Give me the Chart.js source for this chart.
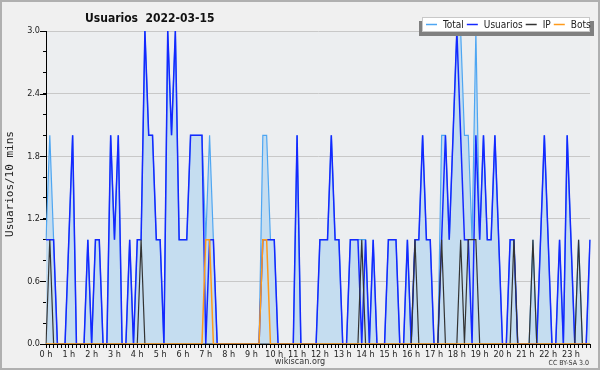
<!DOCTYPE html>
<html>
<head>
<meta charset="utf-8">
<script src="https://cdn.jsdelivr.net/npm/chart.js@4/dist/chart.umd.min.js"></script>
<style>
  html, body { margin: 0; padding: 0; background: #f0f0f0; }
  canvas { display: block; }
</style>
</head>
<body>
<canvas id="chart" width="600" height="370"></canvas>
<script>
// Usuarios per 10 minutes, 2022-03-15 (144 slots, 00:00 .. 23:50)
const chartTitle = "Usuarios  2022-03-15";
const yTitle = "Usuarios/10 mins";
const footLeft = "wikiscan.org";
const footRight = "CC BY-SA 3.0";

const hourLabels = ["0 h", "1 h", "2 h", "3 h", "4 h", "5 h", "6 h", "7 h", "8 h", "9 h", "10 h", "11 h",
  "12 h", "13 h", "14 h", "15 h", "16 h", "17 h", "18 h", "19 h", "20 h", "21 h", "22 h", "23 h"];
const yMajorTicks = [0, 0.6, 1.2, 1.8, 2.4, 3.0];

const total = [
  1, 2, 1, 0, 0, 0, 1, 2, 0, 0,
  0, 1, 0, 1, 1, 0, 0, 2, 1, 2,
  0, 0, 1, 0, 1, 1, 3, 2, 2, 1,
  1, 0, 3, 2, 3, 1, 1, 1, 2, 2,
  2, 2, 1, 2, 1, 0, 0, 0, 0, 0,
  0, 0, 0, 0, 0, 0, 0, 2, 2, 1,
  1, 0, 0, 0, 0, 0, 2, 0, 0, 0,
  0, 0, 1, 1, 1, 2, 1, 1, 0, 0,
  1, 1, 1, 1, 1, 0, 1, 0, 0, 0,
  1, 1, 1, 0, 0, 1, 0, 1, 1, 2,
  1, 1, 0, 0, 2, 2, 1, 2, 3, 3,
  2, 2, 1, 3, 1, 2, 1, 1, 2, 1,
  0, 0, 1, 1, 0, 0, 0, 0, 1, 0,
  1, 2, 1, 0, 0, 1, 0, 2, 1, 0,
  1, 0, 0, 1
];
const usuarios = [
  1, 1, 1, 0, 0, 0, 1, 2, 0, 0,
  0, 1, 0, 1, 1, 0, 0, 2, 1, 2,
  0, 0, 1, 0, 1, 1, 3, 2, 2, 1,
  1, 0, 3, 2, 3, 1, 1, 1, 2, 2,
  2, 2, 0, 1, 1, 0, 0, 0, 0, 0,
  0, 0, 0, 0, 0, 0, 0, 1, 1, 1,
  1, 0, 0, 0, 0, 0, 2, 0, 0, 0,
  0, 0, 1, 1, 1, 2, 1, 1, 0, 0,
  1, 1, 1, 0, 1, 0, 1, 0, 0, 0,
  1, 1, 1, 0, 0, 1, 0, 1, 1, 2,
  1, 1, 0, 0, 1, 2, 1, 2, 3, 2,
  1, 1, 0, 2, 1, 2, 1, 1, 2, 1,
  0, 0, 1, 1, 0, 0, 0, 0, 0, 0,
  1, 2, 1, 0, 0, 1, 0, 2, 1, 0,
  0, 0, 0, 1
];
const ip = [
  0, 1, 0, 0, 0, 0, 0, 0, 0, 0,
  0, 0, 0, 0, 0, 0, 0, 0, 0, 0,
  0, 0, 0, 0, 0, 1, 0, 0, 0, 0,
  0, 0, 0, 0, 0, 0, 0, 0, 0, 0,
  0, 0, 0, 0, 0, 0, 0, 0, 0, 0,
  0, 0, 0, 0, 0, 0, 0, 0, 0, 0,
  0, 0, 0, 0, 0, 0, 0, 0, 0, 0,
  0, 0, 0, 0, 0, 0, 0, 0, 0, 0,
  0, 0, 0, 1, 0, 0, 0, 0, 0, 0,
  0, 0, 0, 0, 0, 0, 0, 1, 0, 0,
  0, 0, 0, 0, 1, 0, 0, 0, 0, 1,
  0, 1, 1, 1, 0, 0, 0, 0, 0, 0,
  0, 0, 0, 1, 0, 0, 0, 0, 1, 0,
  0, 0, 0, 0, 0, 0, 0, 0, 0, 0,
  1, 0, 0, 0
];
const bots = [
  0, 0, 0, 0, 0, 0, 0, 0, 0, 0,
  0, 0, 0, 0, 0, 0, 0, 0, 0, 0,
  0, 0, 0, 0, 0, 0, 0, 0, 0, 0,
  0, 0, 0, 0, 0, 0, 0, 0, 0, 0,
  0, 0, 1, 1, 0, 0, 0, 0, 0, 0,
  0, 0, 0, 0, 0, 0, 0, 1, 1, 0,
  0, 0, 0, 0, 0, 0, 0, 0, 0, 0,
  0, 0, 0, 0, 0, 0, 0, 0, 0, 0,
  0, 0, 0, 0, 0, 0, 0, 0, 0, 0,
  0, 0, 0, 0, 0, 0, 0, 0, 0, 0,
  0, 0, 0, 0, 0, 0, 0, 0, 0, 0,
  0, 0, 0, 0, 0, 0, 0, 0, 0, 0,
  0, 0, 0, 0, 0, 0, 0, 0, 0, 0,
  0, 0, 0, 0, 0, 0, 0, 0, 0, 0,
  0, 0, 0, 0
];

// one category per 10-min slot, hour label on the first slot of each hour
const slotLabels = hourLabels.flatMap((h) => [h, "", "", "", "", ""]);

const SANS = "'DejaVu Sans Condensed', 'DejaVu Sans', sans-serif";
const MONO = "'DejaVu Sans Mono', monospace";

const isMajor = (v) => yMajorTicks.some((m) => Math.abs(m - v) < 1e-6);

const decor = {
  id: "decor",
  beforeDraw(chart) {
    const { ctx, chartArea: a } = chart;
    ctx.save();
    ctx.fillStyle = "#f0f0f0";
    ctx.fillRect(0, 0, chart.width, chart.height);
    ctx.fillStyle = "#eceef0";
    ctx.fillRect(a.left, a.top, a.right - a.left, a.bottom - a.top);
    ctx.restore();
  },
  afterDraw(chart) {
    const { ctx, chartArea: a } = chart;
    const ys = chart.scales.y;
    ctx.save();
    // outer frame
    ctx.strokeStyle = "#b0b0b0";
    ctx.lineWidth = 2;
    ctx.strokeRect(1, 1, chart.width - 2, chart.height - 2);

    // longer marks on the labelled y ticks
    ctx.strokeStyle = "#000";
    ctx.lineWidth = 1;
    yMajorTicks.forEach((v) => {
      const py = Math.round(ys.getPixelForValue(v)) + 0.5;
      ctx.beginPath();
      ctx.moveTo(a.left - 6, py);
      ctx.lineTo(a.left, py);
      ctx.stroke();
    });

    // title
    ctx.fillStyle = "#111";
    ctx.font = "bold 12px " + SANS;
    ctx.textAlign = "left";
    ctx.textBaseline = "alphabetic";
    ctx.fillText(chartTitle, 85, 22);

    // y title
    ctx.save();
    ctx.translate(10, 184);
    ctx.rotate(-Math.PI / 2);
    ctx.font = "11px " + MONO;
    ctx.textAlign = "center";
    ctx.textBaseline = "middle";
    ctx.fillStyle = "#222";
    ctx.fillText(yTitle, 0, 0);
    ctx.restore();

    // credits
    ctx.fillStyle = "#333";
    ctx.font = "9px " + SANS;
    ctx.textAlign = "center";
    ctx.fillText(footLeft, 300, 364);
    ctx.font = "7px " + SANS;
    ctx.textAlign = "right";
    ctx.fillText(footRight, 589, 365);

    // legend box with shadow
    ctx.fillStyle = "#808080";
    ctx.fillRect(419, 21, 175, 15);
    ctx.fillStyle = "#fff";
    ctx.fillRect(422, 17, 168, 15);
    ctx.strokeStyle = "#c8c8c8";
    ctx.lineWidth = 1;
    ctx.strokeRect(422.5, 17.5, 167, 14);

    ctx.font = "10px " + SANS;
    ctx.textAlign = "left";
    ctx.textBaseline = "middle";
    let x = 426;
    chart.data.datasets.forEach((ds) => {
      ctx.strokeStyle = ds.borderColor;
      ctx.lineWidth = 1.5;
      ctx.beginPath();
      ctx.moveTo(x, 24.5);
      ctx.lineTo(x + 11, 24.5);
      ctx.stroke();
      x += 17;
      ctx.fillStyle = "#222";
      ctx.fillText(ds.label, x, 25);
      x += ctx.measureText(ds.label).width + 3;
    });
    ctx.restore();
  },
};

new Chart(document.getElementById("chart"), {
  type: "line",
  data: {
    labels: slotLabels,
    datasets: [
      {
        label: "Total",
        data: total,
        borderColor: "#4ea6f2",
        backgroundColor: "rgb(197,221,240)",
        borderWidth: 1.2,
        fill: "origin",
        order: 3,
      },
      {
        label: "Usuarios",
        data: usuarios,
        borderColor: "#1428ff",
        borderWidth: 1.5,
        fill: false,
        order: 2,
      },
      {
        label: "IP",
        data: ip,
        borderColor: "#333333",
        borderWidth: 1.2,
        fill: false,
        order: 1,
      },
      {
        label: "Bots",
        data: bots,
        borderColor: "#ff9a1a",
        borderWidth: 1.5,
        fill: false,
        order: 0,
      },
    ],
  },
  options: {
    responsive: false,
    animation: false,
    devicePixelRatio: 1,
    layout: { padding: { top: 31, right: 10, left: 0, bottom: 0 } },
    elements: { point: { radius: 0 }, line: { tension: 0 } },
    plugins: { legend: { display: false }, title: { display: false }, tooltip: { enabled: false } },
    scales: {
      x: {
        type: "category",
        offset: false,
        grid: { drawOnChartArea: false, tickLength: 4, tickColor: "#000" },
        border: { display: true, color: "#000", width: 1 },
        ticks: {
          autoSkip: false,
          maxRotation: 0,
          padding: 1,
          color: "#222",
          font: { family: SANS, size: 9 },
          callback: (v, i) => slotLabels[i],
        },
        afterFit: (s) => { s.height = 26; },
      },
      y: {
        min: 0,
        max: 3,
        grid: {
          color: (c) => (c.tick && isMajor(c.tick.value) ? "#c8c8c8" : "rgba(0,0,0,0)"),
          tickColor: "#000",
          tickLength: 3,
        },
        border: { display: true, color: "#000", width: 1 },
        ticks: {
          stepSize: 0.2,
          padding: 3,
          color: "#222",
          font: { family: SANS, size: 9 },
          callback: (v) => (isMajor(v) ? v.toFixed(1) : ""),
        },
        afterFit: (s) => { s.width = 46; },
      },
    },
  },
  plugins: [decor],
});
</script>
</body>
</html>
